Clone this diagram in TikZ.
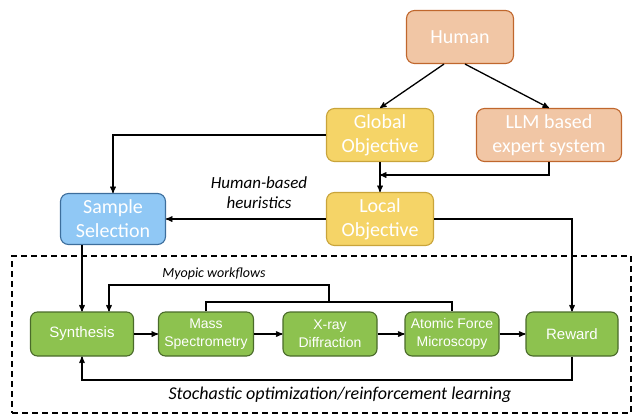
\documentclass[tikz,border=0pt]{standalone}
\usepackage{fontspec}
\setmainfont{Carlito}
\newfontfamily\arialfont{Liberation Sans}
\usetikzlibrary{arrows,calc,positioning}

\definecolor{humanfill}{HTML}{F1C6A5}
\definecolor{humanline}{HTML}{C0672D}
\definecolor{objfill}{HTML}{F5D467}
\definecolor{objline}{HTML}{C9A43A}
\definecolor{selfill}{HTML}{90C8F5}
\definecolor{selline}{HTML}{3D6E9C}
\definecolor{stepfill}{HTML}{8DC24F}
\definecolor{stepline}{HTML}{4A6B2A}

\begin{document}
\begin{tikzpicture}[x=1pt, y=-1pt, >=stealth']

\tikzstyle{topbox}=[draw, text centered, rounded corners=8pt, line width=1.1pt, text=white, align=center, minimum height=53pt, font=\fontsize{20}{24}\selectfont]
\tikzstyle{stepbox}=[draw=stepline, fill=stepfill, text centered, rounded corners=7pt, line width=1.1pt, text=white, align=center, minimum height=44pt, font=\arialfont\fontsize{14}{18}\selectfont]
\tikzstyle{lbl}=[text centered, align=center, font=\itshape\fontsize{17}{20}\selectfont]
\tikzstyle{cr}=[line width=1.3pt]

\useasboundingbox (0,0) rectangle (633,416);

% top part
\node(H)[style = topbox, draw=humanline, fill=humanfill, minimum width=107pt] at (460,37) {Human};
\node(GO)[style = topbox, draw=objline, fill=objfill, minimum width=107pt] at (380,135) {Global\\Objective};
\node(LLM)[style = topbox, draw=humanline, fill=humanfill, minimum width=145pt] at (549,135) {LLM based\\expert system};
\node(SS)[style = topbox, draw=selline, fill=selfill, minimum width=105pt, minimum height=51pt] at (113,219) {Sample\\Selection};
\node(LO)[style = topbox, draw=objline, fill=objfill, minimum width=107pt] at (380,219) {Local\\Objective};

\node(HB)[style = lbl] at (259,193) {Human-based\\heuristics};


% workflow inside the dashed frame
\node(frame)[draw, dash pattern=on 6pt off 4pt, line width=1.1pt, minimum width=619pt, minimum height=157pt] at (321.5,334.5) {};

\node(Syn)[style = stepbox, minimum width=103pt, font=\arialfont\fontsize{15}{18}\selectfont] at (82,334) {Synthesis};
\node(MS)[style = stepbox, minimum width=95pt] at (206,334) {Mass\\Spectrometry};
\node(XRD)[style = stepbox, minimum width=94pt] at (330,334) {X-ray\\Diffraction};
\node(AFM)[style = stepbox, minimum width=94pt] at (452,334) {Atomic Force\\Microscopy};
\node(Rew)[style = stepbox, minimum width=92pt, font=\arialfont\fontsize{15}{18}\selectfont] at (572,334) {Reward};

\node(MW)[style = lbl, font=\itshape\fontsize{14}{16}\selectfont] at (214,274) {Myopic workflows};
\node(SO)[style = lbl, font=\itshape\fontsize{18}{20}\selectfont] at (340,395) {Stochastic optimization/reinforcement learning};

\coordinate(br) at (329,302);
\coordinate(mt) at (329,285);
\coordinate(mg) at (380,175);
\coordinate(fb) at (572,380);

% arrows
\draw[->, style = cr] ([xshift=-16pt]H.south) -- (GO.north);
\draw[->, style = cr] ([xshift=5pt]H.south) -- (LLM.north);
\draw[->, style = cr] (GO.south) -- (LO.north);
\draw[->, style = cr] (LLM.south) |- (mg);
\draw[->, style = cr] (GO.west) -| (SS.north);
\draw[->, style = cr] (LO.west) -- (SS.east);
\draw[->, style = cr] (LO.east) -| (Rew.north);
\draw[->, style = cr] (SS.south -| Syn.north) -- (Syn.north);

\draw[->, style = cr] (Syn) -- (MS);
\draw[->, style = cr] (MS) -- (XRD);
\draw[->, style = cr] (XRD) -- (AFM);
\draw[->, style = cr] (AFM) -- (Rew);

\draw[style = cr] (MS.north) |- (br) -| (AFM.north);
\draw[->, style = cr] (br) -- (mt) -| ([xshift=27pt]Syn.north);
\draw[->, style = cr] (Rew.south) -- (fb) -| (Syn.south);

\end{tikzpicture}
\end{document}
